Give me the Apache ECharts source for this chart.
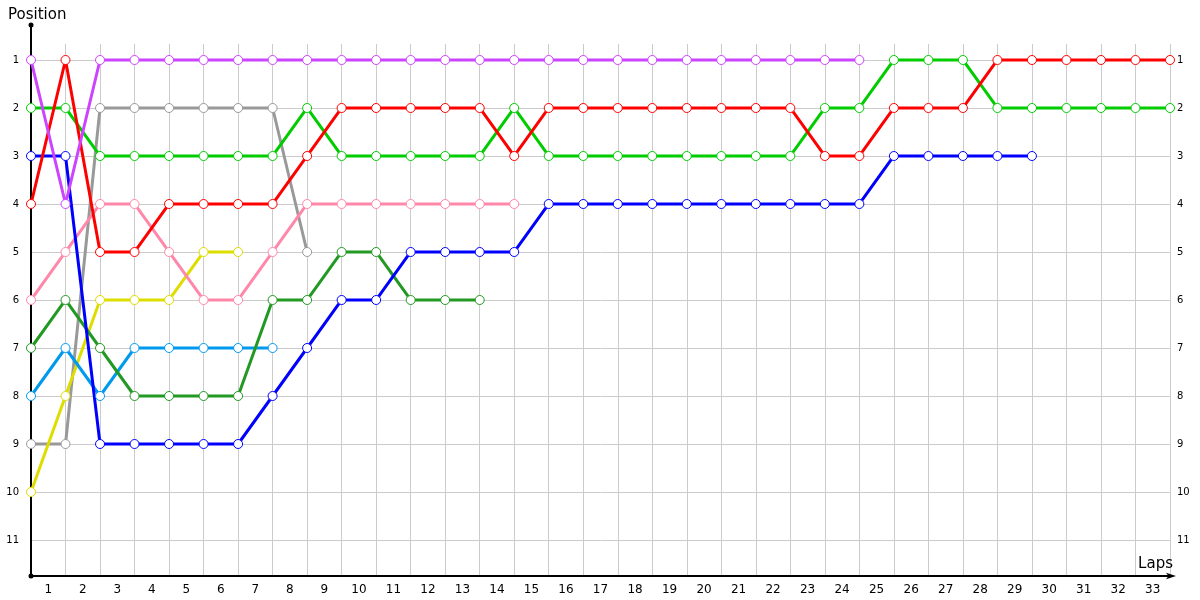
<!DOCTYPE html>
<html>
<head>
<meta charset="utf-8">
<script src="https://cdn.jsdelivr.net/npm/echarts@6/dist/echarts.min.js"></script>
<style>html,body{margin:0;padding:0;background:#fff}#c{width:1200px;height:600px}</style>
</head>
<body>
<div id="c"></div>
<script>
// Lap labels (categories) and positions
const lapLabels = ['1','2','3','4','5','6','7','8','9','10','11','12','13','14','15','16','17','18','19','20','21','22','23','24','25','26','27','28','29','30','31','32','33'];
const positionTicks = [1,2,3,4,5,6,7,8,9,10,11];

// Position per lap, starting at lap 0 (grid)
const purple    = [1,4,1,1,1,1,1,1,1,1,1,1,1,1,1,1,1,1,1,1,1,1,1,1,1];
const red       = [4,1,5,5,4,4,4,4,3,2,2,2,2,2,3,2,2,2,2,2,2,2,2,3,3,2,2,2,1,1,1,1,1,1];
const green     = [2,2,3,3,3,3,3,3,2,3,3,3,3,3,2,3,3,3,3,3,3,3,3,2,2,1,1,1,2,2,2,2,2,2];
const blue      = [3,3,9,9,9,9,9,8,7,6,6,5,5,5,5,4,4,4,4,4,4,4,4,4,4,3,3,3,3,3];
const darkGreen = [7,6,7,8,8,8,8,6,6,5,5,6,6,6];
const pink      = [6,5,4,4,5,6,6,5,4,4,4,4,4,4,4];
const yellow    = [10,8,6,6,6,5,5];
const lightBlue = [8,7,8,7,7,7,7,7];
const gray      = [9,9,2,2,2,2,2,2,5];

const seriesDefs = [
  {name:'gray', data: gray, color:'#999999'},
  {name:'yellow', data: yellow, color:'#dddd00'},
  {name:'lightBlue', data: lightBlue, color:'#0099ee'},
  {name:'darkGreen', data: darkGreen, color:'#229922'},
  {name:'pink', data: pink, color:'#ff88aa'},
  {name:'blue', data: blue, color:'#0000ff'},
  {name:'green', data: green, color:'#00cc00'},
  {name:'red', data: red, color:'#ff0000'},
  {name:'purple', data: purple, color:'#cc44ff'}
];

const FONT = 'DejaVu Sans';
const chart = echarts.init(document.getElementById('c'), null, {renderer:'canvas'});

const option = {
  animation: false,
  backgroundColor: '#ffffff',
  textStyle: {fontFamily: FONT},
  title: {
    text: 'Position', left: 3, top: 3,
    textStyle: {fontFamily: FONT, fontSize: 15, fontWeight: 'normal', color: '#000'}
  },
  grid: {left: 31, right: 30, top: 44, bottom: 24, containLabel: false},
  xAxis: [
    {
      type: 'category', data: lapLabels, boundaryGap: true, position: 'bottom',
      name: 'Laps', nameLocation: 'end', nameGap: 3,
      nameTextStyle: {fontFamily: FONT, fontSize: 15, color:'#000', align:'right', verticalAlign:'bottom', padding:[0,0,4,0]},
      axisLine: {show: true, lineStyle: {color:'#000', width: 2}, symbol: ['circle','arrow'], symbolSize: [5, 10], symbolOffset: [0, 6]},
      axisTick: {show: false},
      axisLabel: {color:'#000', fontSize: 12, margin: 8, fontFamily: FONT, interval: 0},
      splitLine: {show: true, interval: 0, lineStyle: {color:'#cccccc', width: 1}}
    },
    {
      type: 'value', min: 0, max: 33, show: false,
      splitLine: {show: false}
    }
  ],
  yAxis: [
    {
      type: 'value', inverse: true, min: 0.6667, max: 11.75, position: 'left',
      axisLine: {show: true, lineStyle: {color:'#000', width: 2}},
      axisTick: {show: false, customValues: positionTicks},
      axisLabel: {color:'#000', fontSize: 10, margin: 12, fontFamily: FONT, customValues: positionTicks},
      splitLine: {show: true, lineStyle: {color:'#cccccc', width: 1}}
    },
    {
      type: 'value', inverse: true, min: 0.6667, max: 11.75, position: 'right',
      axisLine: {show: false},
      axisTick: {show: false, customValues: positionTicks},
      axisLabel: {color:'#000', fontSize: 10, margin: 7, fontFamily: FONT, customValues: positionTicks},
      splitLine: {show: false}
    }
  ],
  graphic: [
    {type:'line', shape:{x1:31, y1:25, x2:31, y2:44}, style:{stroke:'#000', lineWidth:2}, z: 10},
    {type:'circle', shape:{cx:31, cy:25, r:2.5}, style:{fill:'#000'}, z: 10}
  ],
  series: seriesDefs.map(s => ({
    name: s.name,
    type: 'line',
    xAxisIndex: 1,
    yAxisIndex: 0,
    data: s.data.map((p, lap) => [lap, p]),
    symbol: 'circle',
    symbolSize: 9,
    showSymbol: true,
    lineStyle: {color: s.color, width: 3},
    itemStyle: {color: '#ffffff', borderColor: s.color, borderWidth: 1},
    emphasis: {disabled: true},
    z: 3
  }))
};
chart.setOption(option);
</script>
</body>
</html>
